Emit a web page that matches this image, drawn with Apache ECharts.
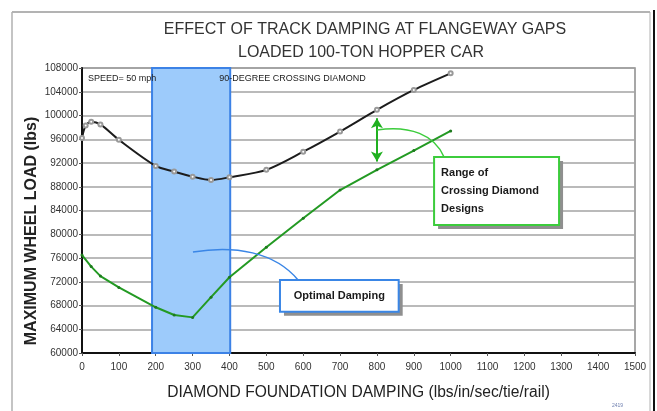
<!DOCTYPE html>
<html><head><meta charset="utf-8">
<script src="https://cdn.jsdelivr.net/npm/echarts@6/dist/echarts.min.js"></script>
<style>html,body{margin:0;padding:0;background:#fff}#chart{width:657px;height:411px}</style>
</head><body><div id="chart"></div>
<script>
// Chart text
const titleLines = ['EFFECT OF TRACK DAMPING AT FLANGEWAY GAPS', 'LOADED 100-TON HOPPER CAR'];
const xAxisName = 'DIAMOND FOUNDATION DAMPING (lbs/in/sec/tie/rail)';
const yAxisName = 'MAXIMUM WHEEL LOAD (lbs)';

// Upper curve (black)
const dampingUpper = [0, 10, 25, 50, 100, 200, 250, 300, 350, 400, 500, 600, 700, 800, 900, 1000];
const loadUpper = [96200, 98300, 98950, 98500, 95900, 91500, 90550, 89700, 89150, 89600, 90850, 93900, 97300, 100950, 104300, 107100];

// Lower curve (green)
const dampingLower = [0, 25, 50, 100, 200, 250, 300, 350, 400, 500, 600, 700, 800, 900, 1000];
const loadLower = [76500, 74550, 72950, 71050, 67700, 66400, 66000, 69400, 72750, 77800, 82700, 87450, 90850, 94100, 97400];

// Axis ranges
const xRange = [0, 1500, 100];
const yRange = [60000, 108000, 4000];

// Shaded optimal damping band
const optimalBand = [190, 402];

// Annotations, anchored in data coordinates
const rangeArrow = { x: 800, from: 99550, to: 92250 };
const notes = [
  { text: 'SPEED= 50 mph', at: [16, 106150] },
  { text: '90-DEGREE CROSSING DIAMOND', at: [372, 106150] }
];
const rangeBox = { text: 'Range of\nCrossing Diamond\nDesigns', from: [955, 93000], to: [1294, 81550] };
const rangeLink = [[800, 97560], [890, 98400], [957, 96720], [982, 93000]];
const optimalBox = { text: 'Optimal Damping', from: [537, 72300], to: [859, 66950] };
const optimalLink = [[301, 77010], [415, 78190], [523, 77010], [586, 72300]];

const chart = echarts.init(document.getElementById('chart'));
const FONT = '"Liberation Sans", Arial, sans-serif';

chart.setOption({
  animation: false,
  backgroundColor: '#fff',
  textStyle: { fontFamily: FONT },
  title: [
    { text: titleLines[0], left: 360, top: 17, textAlign: 'center',
      textStyle: { fontFamily: FONT, fontSize: 16, fontWeight: 'normal', color: '#333' } },
    { text: titleLines[1], left: 356, top: 40, textAlign: 'center',
      textStyle: { fontFamily: FONT, fontSize: 16, fontWeight: 'normal', color: '#333' } }
  ],
  grid: { left: 82, right: 22, top: 68, bottom: 58, show: true, borderColor: '#8a8a8a', borderWidth: 1.5 },
  xAxis: {
    type: 'value', min: xRange[0], max: xRange[1], interval: xRange[2],
    name: xAxisName, nameLocation: 'middle', nameGap: 32,
    nameTextStyle: { fontFamily: FONT, fontSize: 15.6, color: '#222' },
    axisLine: { show: true, lineStyle: { color: '#111', width: 2 } },
    axisTick: { show: true, length: 3, lineStyle: { color: '#555' } },
    axisLabel: { fontSize: 10, color: '#333', margin: 9, formatter: v => String(v) },
    splitLine: { show: false }
  },
  yAxis: {
    type: 'value', min: yRange[0], max: yRange[1], interval: yRange[2],
    axisLine: { show: true, lineStyle: { color: '#111', width: 2 } },
    axisTick: { show: true, length: 3, lineStyle: { color: '#555' } },
    axisLabel: { fontSize: 10, color: '#333', margin: 4, formatter: v => String(v) },
    splitLine: { show: true, lineStyle: { color: '#a3a3a3', width: 1.5 } }
  },
  series: [
    {
      name: 'band', type: 'line', data: [], z: -1, silent: true,
      markArea: {
        silent: true,
        itemStyle: { color: '#9dcbfb', borderColor: '#3c82e6', borderWidth: 2 },
        data: [[{ xAxis: optimalBand[0] }, { xAxis: optimalBand[1] }]]
      }
    },
    {
      name: 'upper', type: 'line', smooth: 0.3,
      data: dampingUpper.map((d, i) => [d, loadUpper[i]]),
      lineStyle: { color: '#1c1c1c', width: 2 },
      symbol: 'emptyCircle', symbolSize: 4, showSymbol: true,
      itemStyle: { color: '#999', borderWidth: 1 }
    },
    {
      name: 'lower', type: 'line', smooth: false,
      data: dampingLower.map((d, i) => [d, loadLower[i]]),
      lineStyle: { color: '#239a23', width: 2 },
      symbol: 'circle', symbolSize: 3,
      itemStyle: { color: '#1d7a1d' },
      markLine: {
        silent: true, symbol: ['arrow', 'arrow'], symbolSize: [9, 10],
        label: { show: false },
        lineStyle: { color: '#20b020', width: 2, type: 'solid' },
        data: [[{ coord: [rangeArrow.x, rangeArrow.from] }, { coord: [rangeArrow.x, rangeArrow.to] }]]
      }
    }
  ]
});

function px(p) { return chart.convertToPixel({ gridIndex: 0 }, p); }

function calloutBox(box, stroke, align) {
  const a = px(box.from), b = px(box.to);
  const x = Math.min(a[0], b[0]), y = Math.min(a[1], b[1]);
  const w = Math.abs(b[0] - a[0]), h = Math.abs(b[1] - a[1]);
  const textEl = align === 'center'
    ? { type: 'text', x: x + w / 2, y: y + h / 2, z: 12,
        style: { text: box.text, font: 'bold 11px ' + FONT, fill: '#1a1a1a', align: 'center', verticalAlign: 'middle' } }
    : { type: 'text', x: x + 7, y: y + 7, z: 12,
        style: { text: box.text, font: 'bold 11px ' + FONT, fill: '#1a1a1a', lineHeight: 18, verticalAlign: 'top' } };
  return [
    { type: 'rect', shape: { x: x + 4, y: y + 4, width: w, height: h }, z: 10,
      style: { fill: '#8f8f8f' } },
    { type: 'rect', shape: { x: x, y: y, width: w, height: h }, z: 11,
      style: { fill: '#fff', stroke: stroke, lineWidth: 2 } },
    textEl
  ];
}

function link(pts, color) {
  const p = pts.map(px);
  return { type: 'bezierCurve', z: 9, silent: true,
    shape: { x1: p[0][0], y1: p[0][1], cpx1: p[1][0], cpy1: p[1][1], cpx2: p[2][0], cpy2: p[2][1], x2: p[3][0], y2: p[3][1] },
    style: { stroke: color, lineWidth: 1.5, fill: null } };
}

const graphics = [
  // page frame
  { type: 'line', shape: { x1: 12, y1: 12, x2: 650, y2: 12 }, style: { stroke: '#9a9a9a', lineWidth: 1.5 } },
  { type: 'line', shape: { x1: 12, y1: 12, x2: 12, y2: 411 }, style: { stroke: '#b0b0b0', lineWidth: 1.5 } },
  { type: 'line', shape: { x1: 650, y1: 12, x2: 650, y2: 411 }, style: { stroke: '#b0b0b0', lineWidth: 1 } },
  { type: 'line', shape: { x1: 654, y1: 10, x2: 654, y2: 411 }, style: { stroke: '#111', lineWidth: 2 } },
  { type: 'text', x: 612, y: 403, style: { text: '2419', font: '5px ' + FONT, fill: '#7080b0' } },
  // vertical axis title
  { type: 'text', x: 32, y: 231, rotation: Math.PI / 2,
    style: { text: yAxisName, font: 'bold 16px ' + FONT, fill: '#222', align: 'center', verticalAlign: 'middle' } },
  link(rangeLink, '#3ccc3c'),
  link(optimalLink, '#3a86e6')
];
notes.forEach(n => {
  const p = px(n.at);
  graphics.push({ type: 'text', x: p[0], y: p[1], z: 12,
    style: { text: n.text, font: '9px ' + FONT, fill: '#222', verticalAlign: 'middle' } });
});
graphics.push(...calloutBox(rangeBox, '#3ccc3c', 'left'));
graphics.push(...calloutBox(optimalBox, '#3a86e6', 'center'));

chart.setOption({ graphic: graphics });
</script>
</body></html>
